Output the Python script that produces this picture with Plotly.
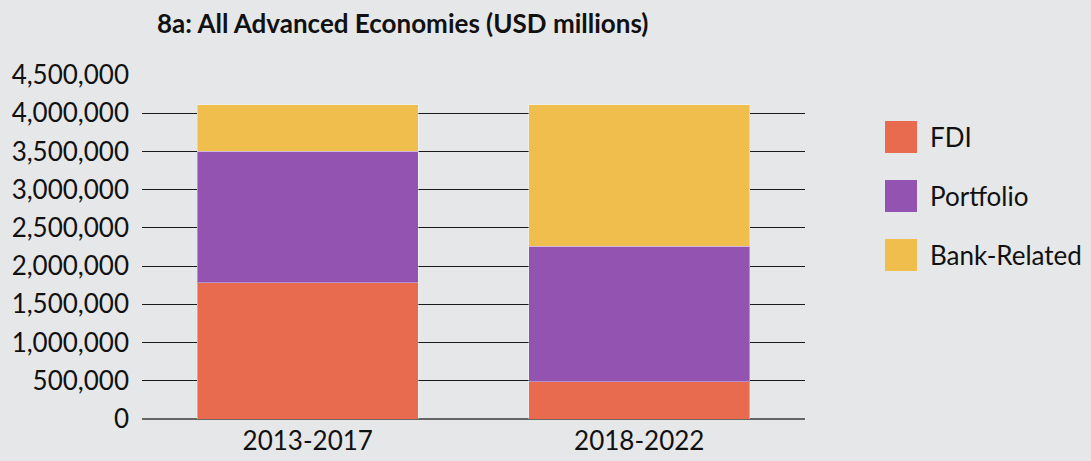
import plotly.graph_objects as go

# Periods and flows (USD millions)
periods = ["2013-2017", "2018-2022"]
series_names = ["FDI", "Portfolio", "Bank-Related"]
fdi = [1781000, 487000]
portfolio = [1721000, 1774000]
bank_related = [610000, 1851000]
series_values = [fdi, portfolio, bank_related]
series_colors = ["#E86B50", "#9254B0", "#F0BE4C"]

tick_vals = [0, 500000, 1000000, 1500000, 2000000, 2500000, 3000000, 3500000, 4000000, 4500000]
tick_text = [f"{v:,}" for v in tick_vals]

BG = "#E6E7E8"
FONT = "Lato, 'Open Sans', sans-serif"
W, H = 1091, 461
ML, MR, MT, MB = 142, 286, 75, 42

fig = go.Figure()
for name, vals, col in zip(series_names, series_values, series_colors):
    fig.add_trace(go.Bar(
        x=periods, y=vals, name=name,
        marker=dict(color=col, line=dict(color="rgba(255,255,255,0.35)", width=1)),
        showlegend=False,
    ))

# Legend drawn as large swatches + labels to the right of the plot
plot_w = W - ML - MR
plot_h = H - MT - MB


def px_to_paper_x(px):
    return (px - ML) / plot_w


def px_to_paper_y(py):
    return (H - MB - py) / plot_h


legend_y = [137, 196, 255]
for name, col, cy in zip(series_names, series_colors, legend_y):
    fig.add_shape(
        type="rect", xref="paper", yref="paper",
        x0=px_to_paper_x(885), x1=px_to_paper_x(917),
        y0=px_to_paper_y(cy + 16), y1=px_to_paper_y(cy - 16),
        fillcolor=col, line=dict(width=0),
    )
    fig.add_annotation(
        xref="paper", yref="paper", x=px_to_paper_x(928), y=px_to_paper_y(cy),
        text=name, showarrow=False, xanchor="left", yanchor="middle",
        font=dict(family=FONT, size=26, color="#111111"),
    )

fig.update_layout(
    width=W, height=H,
    margin=dict(l=ML, r=MR, t=MT, b=MB, autoexpand=False),
    barmode="stack", bargap=0.333,
    paper_bgcolor=BG, plot_bgcolor=BG,
    font=dict(family=FONT, size=26, color="#111111"),
    title=dict(
        text="<b>8a: All Advanced Economies (USD millions)</b>",
        x=157 / W, xanchor="left", y=1 - 24 / H, yanchor="middle",
        font=dict(family=FONT, size=26, color="#111111"),
    ),
    xaxis=dict(showgrid=False, showline=False, ticks="", tickfont=dict(size=26),
               ticklabelstandoff=4, automargin=False),
    yaxis=dict(
        range=[0, 4500000], tickvals=tick_vals, ticktext=tick_text,
        showgrid=True, gridcolor="#1a1a1a", gridwidth=1,
        zeroline=True, zerolinecolor="#666666", zerolinewidth=2,
        showline=False, ticks="", ticklabelstandoff=12,
        tickfont=dict(size=26), automargin=False,
    ),
)

fig.write_html("out.html")
